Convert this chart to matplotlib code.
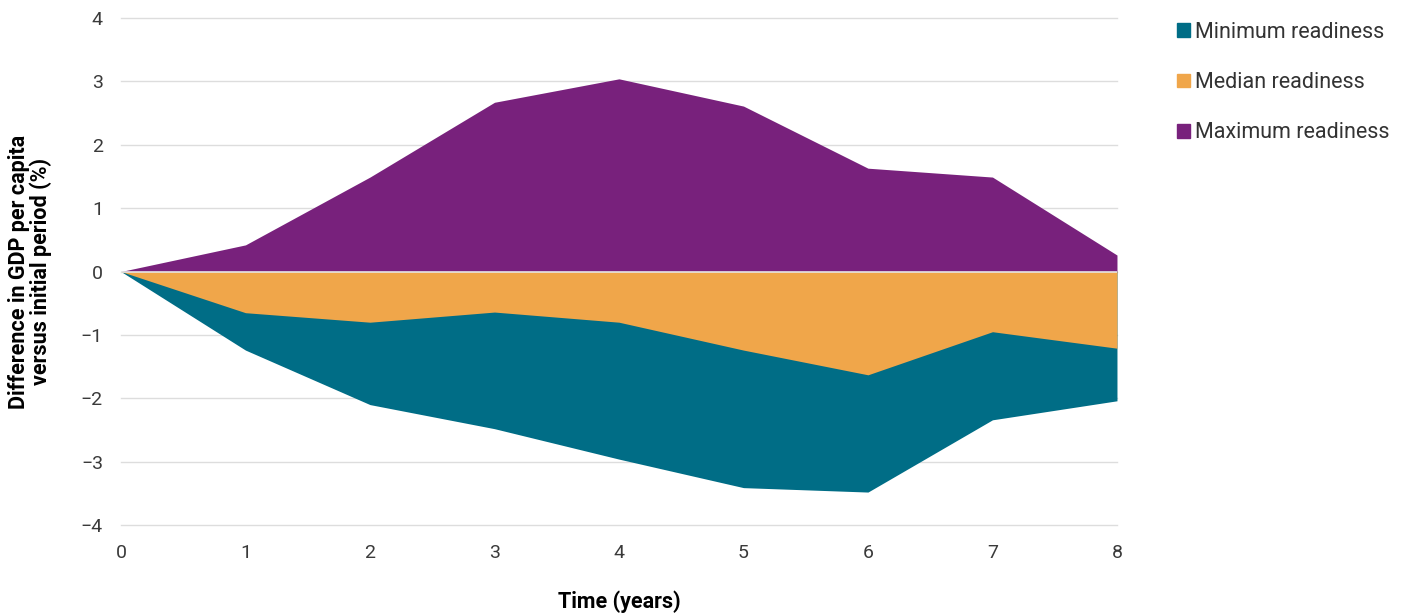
import numpy as np
import matplotlib.pyplot as plt
from matplotlib.patches import Patch

plt.rcParams['font.family'] = ['Roboto', 'DejaVu Sans']

years = [0, 1, 2, 3, 4, 5, 6, 7, 8]
minimum = [0, -1.24, -2.10, -2.48, -2.96, -3.41, -3.48, -2.34, -2.04]
median = [0, -0.65, -0.80, -0.64, -0.80, -1.24, -1.63, -0.95, -1.21]
maximum = [0, 0.42, 1.49, 2.67, 3.04, 2.61, 1.63, 1.49, 0.26]

labels = ['Minimum readiness', 'Median readiness', 'Maximum readiness']
colors = ['#006d86', '#f0a64a', '#78217c']

fig = plt.figure(figsize=(14.05, 6.16), dpi=100)
ax = fig.add_axes([0.0861, 0.1477, 0.7089, 0.8231])

ax.fill_between(years, 0, minimum, color=colors[0], lw=0, zorder=2)
ax.fill_between(years, 0, median, color=colors[1], lw=0, zorder=3)
ax.fill_between(years, 0, maximum, color=colors[2], lw=0, zorder=4)
ax.axhline(0, color='#e6e6e6', lw=1.2, zorder=5)

ax.set_xlim(0, 8)
ax.set_ylim(-4, 4)
ax.set_yticks(range(-4, 5))
ax.set_xticks(years)
ax.set_yticklabels([str(v).replace('-', '\u2212') if v < 0 else str(v) for v in range(-4, 5)])
ax.grid(axis='y', color='#dddddd', lw=1, zorder=0)
for gl in ax.yaxis.get_gridlines():
    gl.set_clip_on(False)
ax.set_axisbelow(True)
for s in ax.spines.values():
    s.set_visible(False)
ax.tick_params(length=0, labelsize=14, colors='#3a3a3a')
ax.tick_params(axis='y', pad=13)
ax.tick_params(axis='x', pad=14)

ax.set_xlabel('Time (years)', fontsize=15.5, fontweight='bold', labelpad=20)
ax.set_ylabel('Difference in GDP per capita\nversus initial period (%)', fontsize=15.5,
              fontweight='bold', linespacing=1.0)
ax.yaxis.set_label_coords(-0.069, 0.5)

handles = [Patch(color=c) for c in colors]
fig.legend(handles, labels, loc='upper left', bbox_to_anchor=(0.824, 0.996),
           frameon=False, fontsize=15.5, handlelength=0.6, handleheight=0.6,
           handletextpad=0.25, labelspacing=1.36, labelcolor='#333333')

fig.savefig('out.png', dpi=100)
